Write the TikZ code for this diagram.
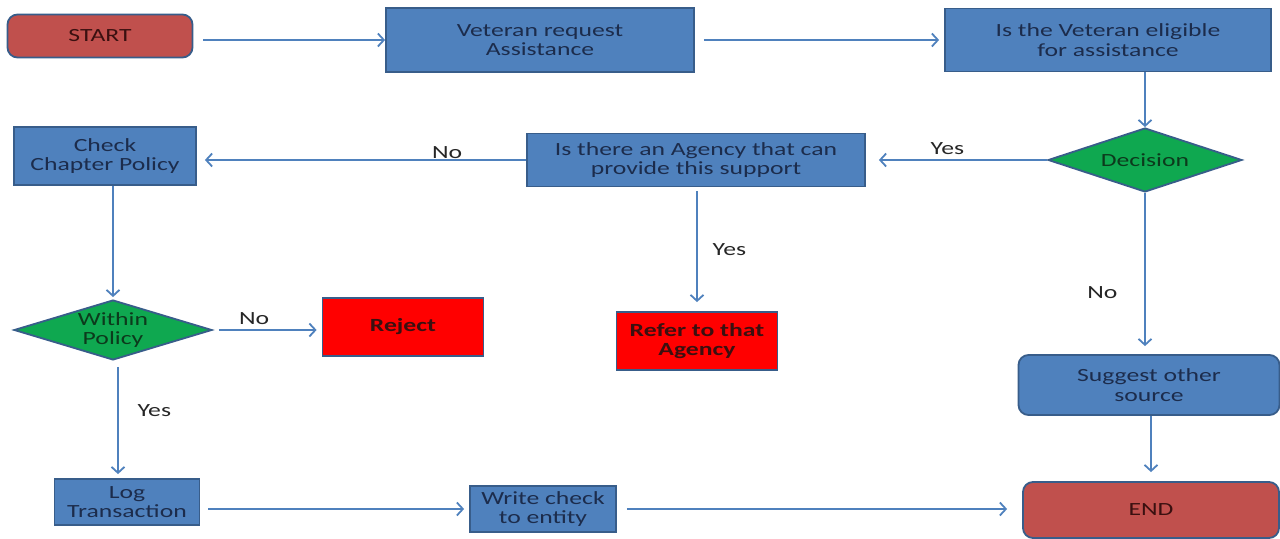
\documentclass[tikz,border=0pt]{standalone}
\usepackage{fontspec}
\setmainfont{Carlito}[FakeStretch=1.38]
\usetikzlibrary{arrows.meta,positioning,shapes.geometric}
\definecolor{boxblue}{HTML}{4F81BD}
\definecolor{edgeblue}{HTML}{385D8A}
\definecolor{termred}{HTML}{C0504D}
\definecolor{decgreen}{HTML}{0FA850}
\definecolor{navytext}{HTML}{1C2C4C}
\definecolor{redtext}{HTML}{3A1010}
\definecolor{greentext}{HTML}{0C3A1C}

\begin{document}
\begin{tikzpicture}[x=0.5pt, y=-0.5pt,
        font=\fontsize{9.3}{9.7}\selectfont,
        box/.style={draw=edgeblue, line width=0.9pt, fill=boxblue, text=navytext,
            align=center, inner sep=0pt},
        term/.style={box, fill=termred, text=redtext, rounded corners=5pt},
        soft/.style={box, rounded corners=5pt},
        halt/.style={box, fill=red, text=redtext, font=\fontsize{9.3}{9.7}\selectfont\bfseries},
        choice/.style={box, diamond, aspect=3, fill=decgreen, text=greentext},
        flow/.style={draw=boxblue, line width=0.9pt, -{Straight Barb[length=3pt,width=6.5pt]}},
        tag/.style={text=black!85, font=\fontsize{9.3}{9.7}\selectfont}]
    \useasboundingbox (0,0) rectangle (1280,539);

    \node[term, minimum width=92.5pt, minimum height=21.5pt] (start) at (100,36) {START};
    \node[box, minimum width=154pt, minimum height=32pt] (request) at (540,40) {Veteran request\\Assistance};
    \node[box, minimum width=163pt, minimum height=31.5pt] (eligible) at (1108,40) {Is the Veteran eligible\\for assistance};
    \node[choice, minimum width=97pt, minimum height=32pt] (decision) at (1145,160) {Decision};
    \node[box, minimum width=169pt, minimum height=26.5pt] (agency) at (696,160) {Is there an Agency that can\\provide this support};
    \node[box, minimum width=91pt, minimum height=29pt] (check) at (105,156) {Check\\Chapter Policy};
    \node[choice, minimum width=99pt, minimum height=30pt] (within) at (113,330) {Within\\Policy};
    \node[halt, minimum width=80.5pt, minimum height=29pt] (reject) at (403,327) {Reject};
    \node[halt, minimum width=80.5pt, minimum height=29pt] (refer) at (697,341) {Refer to that\\Agency};
    \node[soft, minimum width=130.5pt, minimum height=30pt] (suggest) at (1149,385) {Suggest other\\source};
    \node[box, minimum width=72.5pt, minimum height=23pt] (log) at (127,502) {Log\\Transaction};
    \node[box, minimum width=73pt, minimum height=23pt] (write) at (543,509) {Write check\\to entity};
    \node[term, minimum width=128pt, minimum height=28pt] (end) at (1151,510) {END};

    \draw[flow, shorten <=5pt] (start.east |- request.west) -- (request.west);
    \draw[flow, shorten <=4.5pt, shorten >=2.5pt] (request.east) -- (eligible.west);
    \draw[flow] (eligible.south -| decision.north) -- (decision.north);
    \draw[flow, shorten >=6.5pt] (decision.west) -- node[tag, pos=0.55, above=-1pt] {Yes} (agency.east);
    \draw[flow, shorten >=4pt] (agency.west) -- node[tag, pos=0.24, above=-3pt] {No} (check.east |- agency.west);
    \draw[flow, shorten <=2pt, shorten >=4.5pt] (agency.south -| refer.north) -- node[tag, pos=0.5, right=4pt] {Yes} (refer.north);
    \draw[flow, shorten >=1pt] (check.south -| within.north) -- (within.north);
    \draw[flow, shorten <=3pt, shorten >=2.5pt] (within.east) -- node[tag, pos=0.38, above=-1pt] {No} (within.east -| reject.west);
    \draw[flow, shorten <=3pt, shorten >=2pt] ([xshift=2.5pt]within.south) -- node[tag, pos=0.42, right=6pt] {Yes} ([xshift=2.5pt]within.south |- log.north);
    \draw[flow, shorten <=4pt, shorten >=2.5pt] (log.east |- write.west) -- (write.west);
    \draw[flow, shorten <=5pt, shorten >=7.5pt] (write.east) -- (write.east -| end.west);
    \draw[flow, shorten >=4pt] (decision.south) -- node[tag, pos=0.62, left=10pt] {No} (decision.south |- suggest.north);
    \draw[flow, shorten >=4.5pt] (suggest.south -| end.north) -- (end.north);
\end{tikzpicture}
\end{document}
